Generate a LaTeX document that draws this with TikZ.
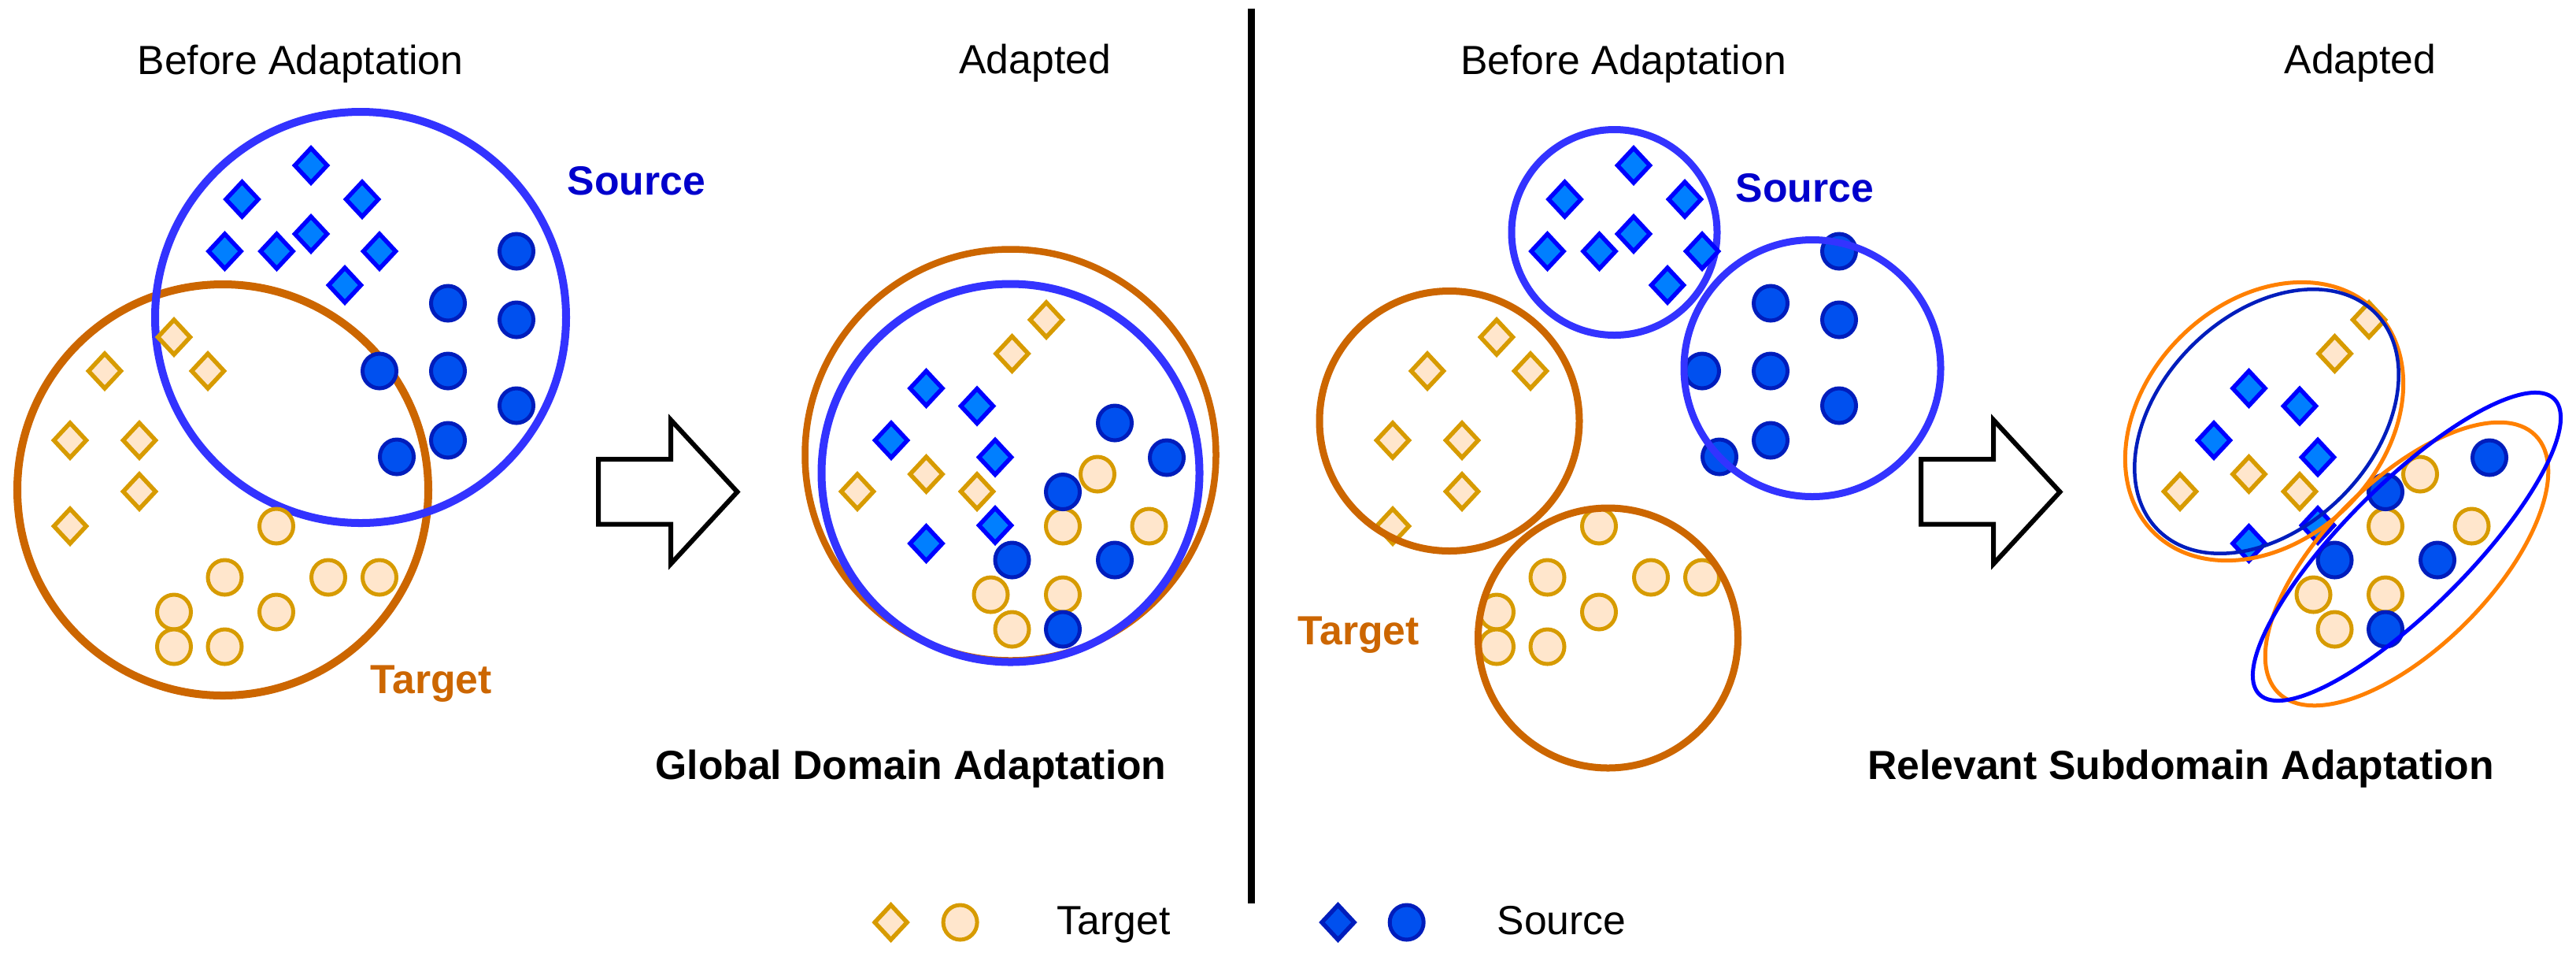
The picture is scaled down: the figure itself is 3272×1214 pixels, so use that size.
\documentclass[tikz,border=0pt]{standalone}
\usepackage{fontspec}
\setmainfont{Liberation Sans}
\definecolor{cblue}{HTML}{3333FF}
\definecolor{corange}{HTML}{CC6600}
\definecolor{sdiafill}{HTML}{007FFF}
\definecolor{sdialine}{HTML}{0000FF}
\definecolor{sdotfill}{HTML}{0050EF}
\definecolor{sdotline}{HTML}{001DBC}
\definecolor{tfill}{HTML}{FFE6CC}
\definecolor{tline}{HTML}{D79B00}
\definecolor{srctext}{HTML}{0000CC}
\definecolor{eorange}{HTML}{FF8000}
\definecolor{eblue}{HTML}{0000FF}
\tikzset{
  tmark/.style={draw=tline, fill=tfill, line width=0.055cm, line join=miter},
  smark/.style={draw=sdialine, fill=sdiafill, line width=0.055cm, line join=miter},
  sdotst/.style={draw=sdotline, fill=sdotfill, line width=0.05cm},
  lmark/.style={draw=sdotline, fill=sdotfill, line width=0.055cm, line join=miter},
  pics/tdia/.style={code={\path[tmark] (0,-22)--(20.5,0)--(0,22)--(-20.5,0)--cycle;}},
  pics/tdot/.style={code={\path[tmark, line width=0.05cm] (0,0) ellipse [x radius=21.5, y radius=22];}},
  pics/sdia/.style={code={\path[smark] (0,-22)--(20.5,0)--(0,22)--(-20.5,0)--cycle;}},
  pics/sdot/.style={code={\path[sdotst] (0,0) ellipse [x radius=21.5, y radius=22];}},
  pics/ldia/.style={code={\path[lmark] (0,-22)--(20.5,0)--(0,22)--(-20.5,0)--cycle;}},
  lab/.style={inner sep=0, font=\fontsize{14.7}{17}\selectfont},
  blab/.style={inner sep=0, font=\fontsize{14.7}{17}\selectfont\bfseries},
  bigcirc/.style={line width=0.1cm},
  bigarrow/.style={draw=black, fill=white, line width=0.06cm, line join=miter},
  adell/.style={line width=0.05cm}
}
\newcommand{\mybeforetarget}{%
  \foreach \x/\y in {221/428,133/471,264/471,89/559,177/559,177/624,89/668}
    \pic at (\x,\y) {tdia};
  \foreach \x/\y in {351/668,285.5/733,417/733,482/733,351/777,221/777,221/821,285.5/821}
    \pic at (\x,\y) {tdot};
}
\newcommand{\mybeforesdia}{%
  \foreach \x/\y in {395/210,307.5/253,460/253,395/297,285.5/319,351.5/319,482/319,438/362}
    \pic at (\x,\y) {sdia};
}
\newcommand{\mybeforesdot}{%
  \foreach \x/\y in {656/319,569/385,656/406,482/471,569/471,656/515,569/559,504/580}
    \pic at (\x,\y) {sdot};
}
\newcommand{\myadaptedtarget}{%
  \foreach \x/\y in {1329/406,1285.5/449,1089/624,1176.5/602,1241/624}
    \pic at (\x,\y) {tdia};
  \foreach \x/\y in {1394/602,1350/668,1459.5/668,1258.5/755,1350/755,1285.5/799}
    \pic at (\x,\y) {tdot};
  \foreach \x/\y in {1176.5/493,1241/515.5,1132/559,1264/580.5,1264/667,1176.5/690}
    \pic at (\x,\y) {sdia};
}
\begin{document}
\begin{tikzpicture}[x=0.01cm, y=-0.01cm]
\useasboundingbox (0,0) rectangle (3272,1214);

% ---------- headings ----------
\node[lab, anchor=base] (h1) at (381.5,94) {Before Adaptation};
\node[lab, anchor=base] (h2) at (1314.7,93) {Adapted};
\node[lab, anchor=base] (h3) at (2062,94) {Before Adaptation};
\node[lab, anchor=base] (h4) at (2998,93) {Adapted};
\node[blab, anchor=base] (c1) at (1157,989) {Global Domain Adaptation};
\node[blab, anchor=base] (c2) at (2770,989) {Relevant Subdomain Adaptation};

% ---------- divider ----------
\coordinate (vtop) at (1589,11);
\coordinate (vbot) at (1589,1147);
\draw[line width=0.09cm] (vtop) -- (vbot);

% ---------- left: before adaptation ----------
\draw[bigcirc, draw=corange] (283,622) circle [radius=261];
\draw[bigcirc, draw=cblue] (458,403) circle [radius=261];
\mybeforetarget
\mybeforesdia
\mybeforesdot
\node[blab, anchor=base west, text=srctext] (srcL) at (720,247) {Source};
\node[blab, anchor=base west, text=corange] (tgtL) at (470,880) {Target};

% ---------- left arrow ----------
\path[bigarrow] (760,583) -- (852,583) -- (852,533) -- (936.5,624.5) -- (852,716) -- (852,665.5) -- (760,665.5) -- cycle;

% ---------- global adapted ----------
\draw[line width=0.085cm, draw=corange] (1283.5,577.5) circle [radius=261];
\draw[bigcirc, draw=cblue] (1283.5,600.5) circle [radius=240];
\myadaptedtarget
\foreach \x/\y in {1416/537,1482/581,1350/624.5,1285.5/711,1416/711,1350/799}
  \pic at (\x,\y) {sdot};

% ---------- right: before adaptation ----------
\begin{scope}[shift={(1680,0)}]
  \draw[line width=0.09cm, draw=cblue] (370.5,295) circle [radius=130.5];
  \mybeforesdia
  \mybeforetarget
  \mybeforesdot
  \draw[line width=0.09cm, draw=corange] (161,534.5) circle [radius=165];
  \draw[line width=0.09cm, draw=corange] (362.5,810) circle [radius=165];
  \draw[line width=0.09cm, draw=cblue] (622,467.5) circle [radius=163];
\end{scope}
\node[blab, anchor=base west, text=srctext] (srcR) at (2204,256) {Source};
\node[blab, anchor=base west, text=corange] (tgtR) at (1648,818) {Target};

% ---------- right arrow ----------
\path[bigarrow] (2440,583) -- (2532,583) -- (2532,533) -- (2616.5,624.5) -- (2532,716) -- (2532,665.5) -- (2440,665.5) -- cycle;

% ---------- relevant subdomain adapted ----------
\begin{scope}[shift={(1680,0)}]
  \myadaptedtarget
  \foreach \x/\y in {1482/581,1350/624.5,1285.5/711,1416/711,1350/799}
    \pic at (\x,\y) {sdot};
\end{scope}
\draw[adell, draw=eorange, rotate around={45:(2876,535)}] (2876,535) ellipse [x radius=199, y radius=151];
\draw[adell, line width=0.045cm, draw=sdotline, rotate around={45:(2879,535)}] (2879,535) ellipse [x radius=195, y radius=135];
\draw[adell, draw=eorange, rotate around={45:(3057,716)}] (3057,716) ellipse [x radius=231, y radius=106];
\draw[adell, draw=eblue, rotate around={45:(3057,694)}] (3057,694) ellipse [x radius=265, y radius=79];

% ---------- legend ----------
\pic at (1131.6,1171) {tdia};
\pic at (1219.6,1171) {tdot};
\node[lab, anchor=base west] (legT) at (1342,1186) {Target};
\pic at (1699.5,1171) {ldia};
\pic at (1786.7,1171) {sdot};
\node[lab, anchor=base west] (legS) at (1901,1186) {Source};
\end{tikzpicture}
\end{document}
